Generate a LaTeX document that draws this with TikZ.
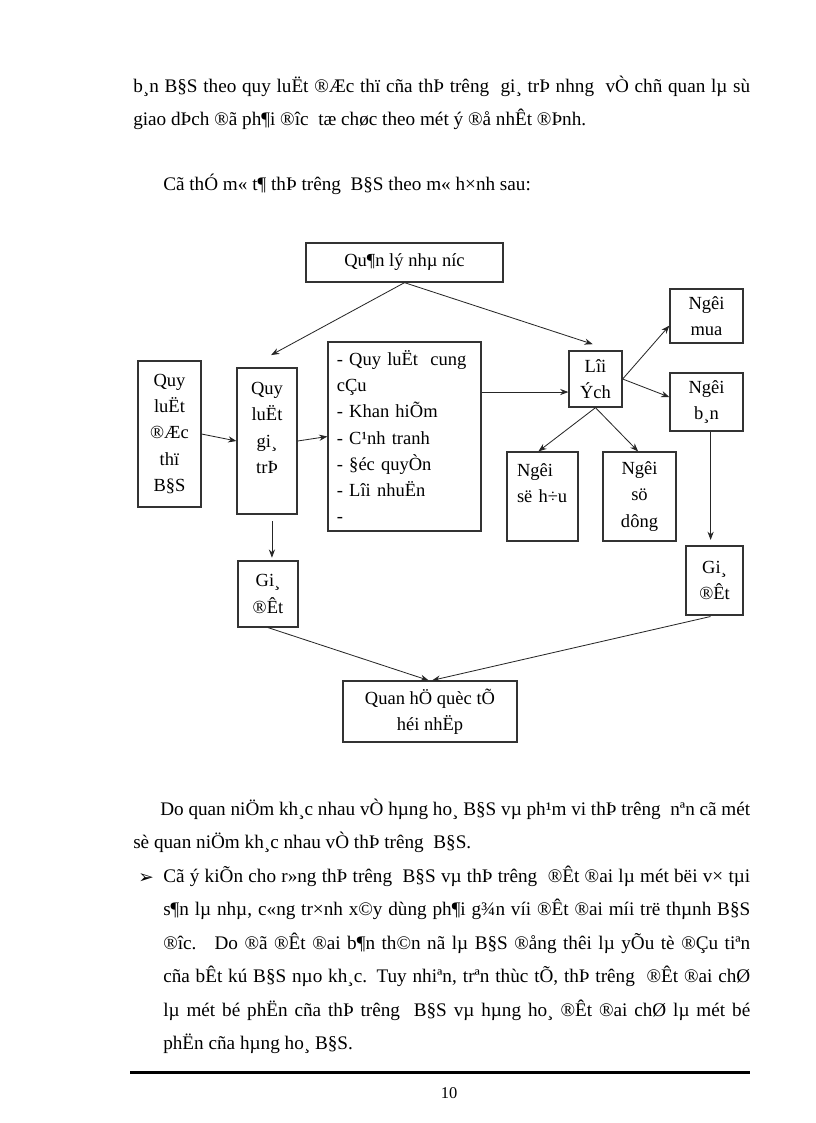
\documentclass[tikz,border=0pt]{standalone}
\usepackage{fontspec}
\setmainfont{Liberation Serif}
\newfontfamily\symfont{DejaVu Sans}
\usetikzlibrary{arrows.meta,positioning}
\tikzset{>={Stealth[length=6pt,width=4.5pt]}}
\newcommand{\bodyfont}{\fontsize{14}{24}\selectfont}
\newcommand{\diagfont}{\fontsize{13.5}{19.2}\selectfont}
\newcommand{\jline}[2]{\makebox[#1][s]{#2}}
\tikzset{
	txt/.style={anchor=base west,inner sep=0pt,font=\bodyfont},
	box/.style={draw=black!80,line width=0.9pt,inner sep=0pt,align=center,font=\diagfont},
	link/.style={->,line width=0.6pt,black!85},
}

\begin{document}
\begin{tikzpicture}[x=0.7295pt,y=-0.7295pt]
				\useasboundingbox[fill=white] (0,0) rectangle (816,1123);
				% text above the diagram
				\node[txt] (p1) at (133,92) {\jline{450.1pt}{b¸n B§S theo quy luËt ®Æc thï cña thÞ trêng \ gi¸ trÞ nhng \ vÒ chñ quan lµ sù}};
				\node[txt] (p2) at (133,125) {giao dÞch ®ã ph¶i ®îc \ tæ chøc theo mét ý ®å nhÊt ®Þnh.};
				\node[txt] (p3) at (163,190) {Cã thÓ m« t¶ thÞ trêng \ B§S theo m« h×nh sau:};

				% diagram
				\node[box,minimum width=143.7pt,minimum height=28.5pt] (qlnn) at (404.5,262.5) {Qu¶n lý nhµ níc};
				\node[box,minimum width=46pt,minimum height=106.5pt] (dacthu) at (169.5,434) {Quy\\luËt\\®Æc\\thï\\B§S};
				\node[box,minimum width=43.8pt,minimum height=106.5pt] (giatri) at (267,441) {Quy\\luËt\\gi¸\\trÞ\\~};
				\node[box,align=left,text width=98.6pt,inner xsep=6.5pt,minimum height=137.9pt] (quyluat) at (404.5,436.5)
					{- Quy luËt \ cung\\cÇu\\- Khan hiÕm\\- C¹nh tranh\\- §éc quyÒn\\- Lîi nhuËn\\-};
				\node[box,minimum width=38.7pt,minimum height=40.9pt] (loiich) at (595.5,379) {Lîi\\Ých};
				\node[box,minimum width=53.3pt,minimum height=39.4pt] (mua) at (706.5,316) {Ngêi\\mua};
				\node[box,minimum width=53.3pt,minimum height=42.3pt] (ban) at (706.5,402) {Ngêi\\b¸n};
				\node[box,align=left,text width=37.2pt,inner xsep=7.3pt,minimum height=64.9pt] (sohuu) at (542.5,496.5) {Ngêi\\së h÷u\\~};
				\node[box,minimum width=53.3pt,minimum height=64.9pt] (sudung) at (639.5,496.5) {Ngêi\\sö\\dông};
				\node[box,minimum width=41.6pt,minimum height=50.3pt] (giadatR) at (714.5,580.5) {Gi¸\\®Êt};
				\node[box,minimum width=43.8pt,minimum height=48.1pt] (giadatL) at (268,594) {Gi¸\\®Êt};
				\node[box,minimum width=126.9pt,minimum height=44.5pt] (quanhe) at (430,711.5) {Quan hÖ quèc tÕ\\héi nhËp};

				\coordinate (gt-in) at ([xshift=3pt,yshift=9pt]giatri.north);
				\coordinate (li-in) at ([xshift=-2pt,yshift=4.5pt]loiich.north);
				\coordinate (li-w) at ([yshift=-9.5pt]loiich.west);
				\draw[link] (qlnn.south) -- (gt-in);
				\draw[link] (qlnn.south) -- (li-in);
				\draw[link] (dacthu.east) -- (giatri.west);
				\draw[link] (giatri.east) -- (quyluat.west);
				\draw[link] (quyluat.east |- li-w) -- (li-w);
				\draw[link] (loiich.east) -- ([yshift=-7pt]mua.west);
				\draw[link] (loiich.east) -- ([yshift=3.6pt]ban.west);
				\draw[link] (loiich.south) -- ([xshift=-3pt]sohuu.north);
				\draw[link] (loiich.south) -- ([xshift=-1pt]sudung.north);
				\draw[link,shorten >=4pt] ([xshift=3pt]ban.south) -- ([xshift=3pt]ban.south |- giadatR.north);
				\draw[link,shorten <=5pt,shorten >=2pt] ([xshift=3.6pt]giatri.south) -- ([xshift=3.6pt]giatri.south |- giadatL.north);
				\draw[link] (giadatL.south) -- ([xshift=-1pt]quanhe.north);
				\draw[link,shorten <=3pt] (giadatR.south) -- ([xshift=1.5pt]quanhe.north);

				% text below the diagram
				\node[txt] (q1) at (160,815) {\jline{430.4pt}{Do quan niÖm kh¸c nhau vÒ hµng ho¸ B§S vµ ph¹m vi thÞ trêng \ nªn cã mét}};
				\node[txt] (q2) at (133,848.5) {sè quan niÖm kh¸c nhau vÒ thÞ trêng \ B§S.};
				\node[anchor=base west,inner sep=0pt] (blt) at (138,883) {\symfont\fontsize{13.5}{15}\selectfont ➢};
				\node[txt] (b1) at (163,882) {\jline{428.2pt}{Cã ý kiÕn cho r»ng thÞ trêng \ B§S vµ thÞ trêng \ ®Êt ®ai lµ mét bëi v× tµi}};
				\node[txt] (b2) at (163,915.5) {\jline{428.2pt}{s¶n lµ nhµ, c«ng tr×nh x©y dùng ph¶i g¾n víi ®Êt ®ai míi trë thµnh B§S}};
				\node[txt] (b3) at (163,949) {\jline{428.2pt}{®îc. \ Do ®ã ®Êt ®ai b¶n th©n nã lµ B§S ®ång thêi lµ yÕu tè ®Çu tiªn}};
				\node[txt] (b4) at (163,982.5) {\jline{428.2pt}{cña bÊt kú B§S nµo kh¸c. Tuy nhiªn, trªn thùc tÕ, thÞ trêng \ ®Êt ®ai chØ}};
				\node[txt] (b5) at (163,1016) {\jline{428.2pt}{lµ mét bé phËn cña thÞ trêng \ B§S vµ hµng ho¸ ®Êt ®ai chØ lµ mét bé}};
				\node[txt] (b6) at (163,1049.5) {phËn cña hµng ho¸ B§S.};

				% footer
				\draw[line width=1.6pt] (130,1072.5) -- (750,1072.5);
				\node[anchor=base,inner sep=0pt,font=\fontsize{12}{14}\selectfont] (pagenr) at (449,1098) {10};
\end{tikzpicture}
\end{document}
